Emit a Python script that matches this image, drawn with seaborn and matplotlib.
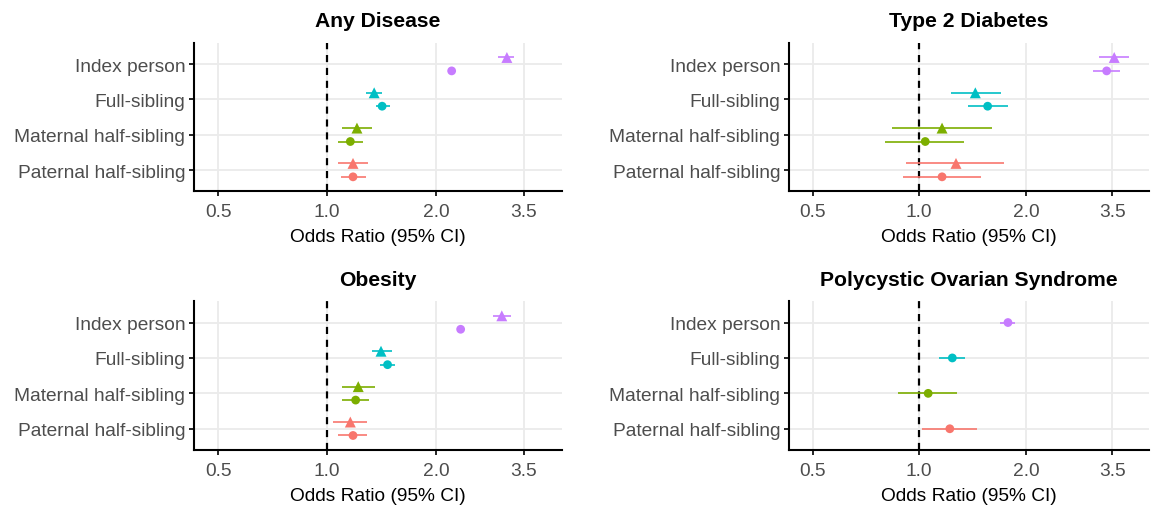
import numpy as np
import pandas as pd
import matplotlib
matplotlib.use("Agg")
import matplotlib.pyplot as plt
import seaborn as sns

# ---------------- data ----------------
categories = ["Index person", "Full-sibling", "Maternal half-sibling", "Paternal half-sibling"]
cat_colors = ["#C77CFF", "#00BFC4", "#7CAE00", "#F8766D"]
panels = ["Any Disease", "Type 2 Diabetes", "Obesity", "Polycystic Ovarian Syndrome"]
x_ticks = [0.5, 1.0, 2.0, 3.5]
x_tick_labels = ["0.5", "1.0", "2.0", "3.5"]

# triangle / circle estimates (order follows categories)
any_tri_or = [3.14, 1.35, 1.21, 1.18]
any_tri_lo = [2.97, 1.28, 1.10, 1.07]
any_tri_hi = [3.29, 1.42, 1.33, 1.30]
any_cir_or = [2.21, 1.42, 1.16, 1.18]
any_cir_lo = [2.18, 1.37, 1.075, 1.09]
any_cir_hi = [2.24, 1.49, 1.26, 1.28]

t2d_tri_or = [3.55, 1.44, 1.16, 1.27]
t2d_tri_lo = [3.21, 1.23, 0.84, 0.92]
t2d_tri_hi = [3.91, 1.70, 1.60, 1.74]
t2d_cir_or = [3.38, 1.56, 1.04, 1.16]
t2d_cir_lo = [3.09, 1.37, 0.80, 0.90]
t2d_cir_hi = [3.68, 1.78, 1.34, 1.49]

obe_tri_or = [3.04, 1.41, 1.22, 1.16]
obe_tri_lo = [2.87, 1.33, 1.10, 1.04]
obe_tri_hi = [3.23, 1.51, 1.36, 1.29]
obe_cir_or = [2.34, 1.47, 1.20, 1.18]
obe_cir_lo = [2.31, 1.40, 1.10, 1.07]
obe_cir_hi = [2.37, 1.54, 1.31, 1.29]

pcos_cir_or = [1.78, 1.24, 1.06, 1.22]
pcos_cir_lo = [1.69, 1.14, 0.87, 1.02]
pcos_cir_hi = [1.86, 1.35, 1.28, 1.46]

panel_data = {
    "Any Disease": [("tri", any_tri_or, any_tri_lo, any_tri_hi), ("cir", any_cir_or, any_cir_lo, any_cir_hi)],
    "Type 2 Diabetes": [("tri", t2d_tri_or, t2d_tri_lo, t2d_tri_hi), ("cir", t2d_cir_or, t2d_cir_lo, t2d_cir_hi)],
    "Obesity": [("tri", obe_tri_or, obe_tri_lo, obe_tri_hi), ("cir", obe_cir_or, obe_cir_lo, obe_cir_hi)],
    "Polycystic Ovarian Syndrome": [("cir", pcos_cir_or, pcos_cir_lo, pcos_cir_hi)],
}

# ---------------- style ----------------
sns.set_theme(style="white")
plt.rcParams["font.family"] = ["Liberation Sans", "DejaVu Sans"]

W, H = 1151, 506
fig = plt.figure(figsize=(W / 100, H / 100), dpi=100)

# axes boxes in pixels: (left, top, right, bottom)
boxes = [(194.3, 44, 561.7, 192.3), (789.3, 44, 1149, 192.3),
         (194.3, 302.3, 561.7, 451), (789.3, 302.3, 1149, 451)]

palette = dict(zip(categories, cat_colors))
dodge = 0.19
FS = 13.8

for name, (l, t, r, b) in zip(panels, boxes):
    ax = fig.add_axes([l / W, 1 - b / H, (r - l) / W, (b - t) / H])
    series = panel_data[name]
    rows = []
    n = len(series)
    for k, (shape, ors, los, his) in enumerate(series):
        off = 0.0 if n == 1 else (-dodge if k == 0 else dodge)
        for i, c in enumerate(categories):
            rows.append(dict(cat=c, shape=shape, y=i + off, OR=ors[i], lo=los[i], hi=his[i]))
    df = pd.DataFrame(rows)

    # grid
    for xt in x_ticks:
        ax.axvline(xt, color="#EBEBEB", lw=1.3, zorder=0)
    for i in range(len(categories)):
        ax.axhline(i, color="#EBEBEB", lw=1.3, zorder=0)
    ax.axvline(1.0, color="black", lw=1.6, ls=(0, (3.2, 2.6)), zorder=1)

    # CI lines
    for _, rw in df.iterrows():
        ax.hlines(rw["y"], rw["lo"], rw["hi"], color=palette[rw["cat"]], lw=1.4, alpha=0.85, zorder=2)

    sns.scatterplot(data=df, x="OR", y="y", hue="cat", palette=palette, style="shape",
                    markers={"tri": "^", "cir": "o"}, size="shape",
                    sizes={"tri": 62, "cir": 40}, linewidth=0, legend=False,
                    ax=ax, zorder=3)

    ax.set_xscale("log")
    ax.set_xlim(0.43, 4.45)
    ax.set_ylim(len(categories) - 1 + 0.6, -0.6)
    ax.set_xticks(x_ticks)
    ax.set_xticklabels(x_tick_labels)
    ax.minorticks_off()
    ax.set_yticks(range(len(categories)))
    ax.set_yticklabels(categories)
    ax.set_ylabel("")
    ax.set_xlabel("Odds Ratio (95% CI)", fontsize=FS, color="black", labelpad=6)
    ax.set_title(name, fontsize=15.2, fontweight="bold", color="black", pad=12)
    ax.tick_params(axis="x", pad=5)
    ax.tick_params(axis="y", pad=3)
    ax.tick_params(axis="both", which="major", length=3.5, width=1.2, color="black",
                   labelsize=FS, labelcolor="#4D4D4D", direction="out",
                   bottom=True, left=True)
    for s in ["top", "right"]:
        ax.spines[s].set_visible(False)
    for s in ["left", "bottom"]:
        ax.spines[s].set_color("black")
        ax.spines[s].set_linewidth(1.5)
    ax.set_facecolor("white")
    ax.grid(False)

fig.savefig("out.png", dpi=100, facecolor="white")
